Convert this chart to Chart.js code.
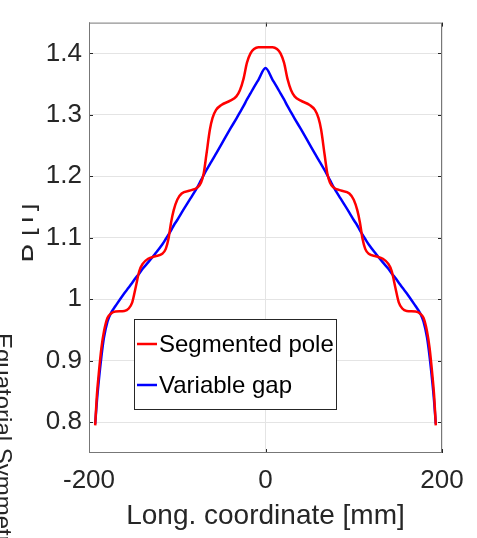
<!DOCTYPE html>
<html>
<head>
<meta charset="utf-8">
<script src="https://cdn.jsdelivr.net/npm/chart.js@4.4.1/dist/chart.umd.min.js"></script>
<style>
  body { margin: 0; background: #fff; }
  #wrap { width: 477px; height: 538px; }
</style>
</head>
<body>
<div id="wrap"><canvas id="fieldChart" width="477" height="538"></canvas></div>
<script>
// Longitudinal positions [mm]
const positions = [
  -193, -191, -189, -186, -183, -179, -175, -170, -160, -155, -151, -147, -143, -139,
  -133, -125, -117, -113, -110, -107, -104, -100, -95, -85, -77, -73, -70, -67, -63,
  -60, -56, -50, -40, -33, -29, -25, -21, -17, -13, -8,
  0,
  8, 13, 17, 21, 25, 29, 33, 40, 50, 56, 60, 63, 67, 70, 73, 77, 85, 95, 100,
  104, 107, 110, 113, 117, 125, 133, 139, 143, 147, 151, 155, 160, 170, 175, 179,
  183, 186, 189, 191, 193
];

// B [T], segmented pole
const segmentedPole = [
  0.795, 0.845, 0.878, 0.920, 0.948, 0.970, 0.977, 0.980, 0.981, 0.985, 0.995, 1.020, 1.046, 1.058,
  1.066, 1.070, 1.074, 1.082, 1.098, 1.125, 1.145, 1.162, 1.172, 1.177, 1.182, 1.190, 1.205, 1.235, 1.276,
  1.295, 1.308, 1.316, 1.323, 1.330, 1.340, 1.358, 1.385, 1.400, 1.407, 1.410,
  1.410,
  1.410, 1.407, 1.400, 1.385, 1.358, 1.340, 1.330, 1.323, 1.316, 1.308, 1.295, 1.276, 1.235, 1.205, 1.190, 1.182, 1.177, 1.172, 1.162,
  1.145, 1.125, 1.098, 1.082, 1.074, 1.070, 1.066, 1.058, 1.046, 1.020, 0.995, 0.985, 0.981, 0.980, 0.977, 0.970,
  0.948, 0.920, 0.878, 0.845, 0.795
];

// B [T], variable gap
const variableGap = [
  0.797, 0.835, 0.866, 0.906, 0.938, 0.964, 0.978, 0.989, 1.010, 1.019, 1.027, 1.035, 1.042, 1.050,
  1.060, 1.074, 1.089, 1.098, 1.105, 1.112, 1.120, 1.129, 1.141, 1.164, 1.183, 1.194, 1.202, 1.210, 1.220,
  1.227, 1.237, 1.252, 1.277, 1.294, 1.304, 1.314, 1.325, 1.335, 1.345, 1.357,
  1.376,
  1.357, 1.345, 1.335, 1.325, 1.314, 1.304, 1.294, 1.277, 1.252, 1.237, 1.227, 1.220, 1.210, 1.202, 1.194, 1.183, 1.164, 1.141, 1.129,
  1.120, 1.112, 1.105, 1.098, 1.089, 1.074, 1.060, 1.050, 1.042, 1.035, 1.027, 1.019, 1.010, 0.989, 0.978, 0.964,
  0.938, 0.906, 0.866, 0.835, 0.797
];

const xTicks = [-200, 0, 200];
const yTicks = [0.8, 0.9, 1, 1.1, 1.2, 1.3, 1.4];

const FONT = '"Liberation Sans", Arial, Helvetica, sans-serif';
const TEXT = '#262626';

function toPoints(ys) {
  return positions.map((x, i) => ({ x: x, y: ys[i] }));
}

// box, inward ticks, legend and the cut-off side texts
const decorations = {
  id: 'decorations',
  beforeDatasetsDraw(chart) {
    const { ctx, chartArea: a, scales } = chart;
    ctx.save();
    ctx.strokeStyle = TEXT;
    ctx.lineWidth = 1;
    ctx.beginPath();
    yTicks.forEach(v => {
      const y = Math.round(scales.y.getPixelForValue(v)) + 0.5;
      ctx.moveTo(a.left, y); ctx.lineTo(a.left + 4, y);
      ctx.moveTo(a.right, y); ctx.lineTo(a.right - 4, y);
    });
    xTicks.forEach(v => {
      const x = Math.round(scales.x.getPixelForValue(v)) + 0.5;
      ctx.moveTo(x, a.bottom); ctx.lineTo(x, a.bottom - 4);
      ctx.moveTo(x, a.top); ctx.lineTo(x, a.top + 4);
    });
    ctx.stroke();
    ctx.strokeStyle = '#777';
    ctx.strokeRect(a.left + 0.5, a.top + 0.5, a.width - 1, a.height - 1);
    ctx.restore();
  },
  afterDraw(chart) {
    const { ctx } = chart;
    ctx.save();
    // legend
    const bx = 134, by = 319, bw = 202, bh = 90;
    ctx.fillStyle = '#fff';
    ctx.fillRect(bx, by, bw, bh);
    ctx.strokeStyle = TEXT;
    ctx.lineWidth = 1;
    ctx.strokeRect(bx + 0.5, by + 0.5, bw, bh);
    ctx.font = '24px ' + FONT;
    ctx.textBaseline = 'middle';
    chart.data.datasets.forEach((ds, i) => {
      const y = 344 + i * 41;
      ctx.strokeStyle = ds.borderColor;
      ctx.lineWidth = 2.5;
      ctx.beginPath();
      ctx.moveTo(137, y); ctx.lineTo(157, y);
      ctx.stroke();
      ctx.fillStyle = '#000';
      ctx.fillText(ds.label, 159, y + 1);
    });
    // y title, clipped on its left side
    ctx.save();
    ctx.beginPath();
    ctx.rect(22, 0, 60, 538);
    ctx.clip();
    ctx.translate(33, 233);
    ctx.rotate(-Math.PI / 2);
    ctx.font = '28px ' + FONT;
    ctx.fillStyle = TEXT;
    ctx.textAlign = 'center';
    ctx.textBaseline = 'alphabetic';
    ctx.fillText('B [T]', 0, 0);
    ctx.restore();
    // neighbouring panel label
    ctx.translate(-5, 333);
    ctx.rotate(Math.PI / 2);
    ctx.font = '24px ' + FONT;
    ctx.fillStyle = TEXT;
    ctx.textAlign = 'left';
    ctx.textBaseline = 'alphabetic';
    ctx.fillText('Equatorial Symmetric', 0, 0);
    ctx.restore();
  }
};

const ctx = document.getElementById('fieldChart').getContext('2d');

const fieldChart = new Chart(ctx, {
  type: 'line',
  data: {
    datasets: [
      {
        label: 'Segmented pole',
        data: toPoints(segmentedPole),
        borderColor: '#ff0000',
        borderWidth: 2.5,
        pointRadius: 0,
        cubicInterpolationMode: 'monotone'
      },
      {
        label: 'Variable gap',
        data: toPoints(variableGap),
        borderColor: '#0000ff',
        borderWidth: 2.5,
        pointRadius: 0,
        cubicInterpolationMode: 'monotone'
      }
    ]
  },
  options: {
    responsive: false,
    animation: false,
    layout: { padding: { left: 0, top: 14, right: 35, bottom: 0 } },
    plugins: {
      legend: { display: false },
      tooltip: { enabled: false }
    },
    scales: {
      x: {
        type: 'linear',
        min: -200,
        max: 200,
        afterBuildTicks: s => { s.ticks = xTicks.map(v => ({ value: v })); },
        afterFit: s => { s.height = 85; },
        grid: { color: '#e4e4e4', drawTicks: false },
        border: { display: false },
        ticks: {
          padding: 12,
          color: TEXT,
          font: { family: FONT, size: 26 },
          maxRotation: 0,
          callback: v => String(v)
        },
        title: {
          display: true,
          text: 'Long. coordinate [mm]',
          color: TEXT,
          font: { family: FONT, size: 28 },
          padding: { top: 0, bottom: 5 }
        }
      },
      y: {
        type: 'linear',
        min: 0.75,
        max: 1.45,
        afterBuildTicks: s => { s.ticks = yTicks.map(v => ({ value: v })); },
        afterFit: s => { s.width = 89; },
        grid: { color: '#e4e4e4', drawTicks: false },
        border: { display: false },
        ticks: {
          padding: 7,
          color: TEXT,
          font: { family: FONT, size: 26 },
          callback: v => String(v)
        }
      }
    }
  },
  plugins: [decorations]
});
</script>
</body>
</html>
